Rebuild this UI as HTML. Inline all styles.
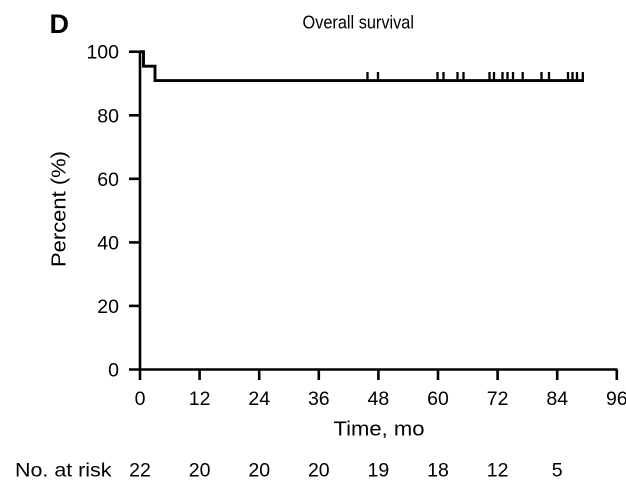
<!DOCTYPE html>
<html>
<head>
<meta charset="utf-8">
<style>
  html, body { margin: 0; padding: 0; background: #fff; }
  body { width: 626px; height: 492px; overflow: hidden; }
  svg { display: block; }
  text { font-family: "Liberation Sans", Arial, sans-serif; fill: #000; }
</style>
</head>
<body>
<svg width="626" height="492" viewBox="0 0 626 492" xmlns="http://www.w3.org/2000/svg">
  <rect width="626" height="492" fill="#fff"/>

  <!-- Panel letter -->
  <text x="49.5" y="33" font-size="27" font-weight="bold">D</text>

  <!-- Title -->
  <text x="302.5" y="28.5" font-size="18.5" textLength="111.5" lengthAdjust="spacingAndGlyphs">Overall survival</text>

  <!-- Axes -->
  <g stroke="#000" stroke-width="2.6" fill="none">
    <line x1="140" y1="51.7" x2="140" y2="369.5"/>
    <line x1="129" y1="369.5" x2="617.5" y2="369.5"/>
    <!-- y ticks -->
    <line x1="129" y1="51.7" x2="140" y2="51.7"/>
    <line x1="129" y1="115.3" x2="140" y2="115.3"/>
    <line x1="129" y1="178.8" x2="140" y2="178.8"/>
    <line x1="129" y1="242.4" x2="140" y2="242.4"/>
    <line x1="129" y1="305.9" x2="140" y2="305.9"/>
    <!-- x ticks -->
    <line x1="140" y1="369.5" x2="140" y2="380"/>
    <line x1="199.6" y1="369.5" x2="199.6" y2="380"/>
    <line x1="259.2" y1="369.5" x2="259.2" y2="380"/>
    <line x1="318.8" y1="369.5" x2="318.8" y2="380"/>
    <line x1="378.4" y1="369.5" x2="378.4" y2="380"/>
    <line x1="438" y1="369.5" x2="438" y2="380"/>
    <line x1="497.6" y1="369.5" x2="497.6" y2="380"/>
    <line x1="557.2" y1="369.5" x2="557.2" y2="380"/>
    <line x1="616.8" y1="369.5" x2="616.8" y2="380"/>
  </g>

  <!-- Y tick labels -->
  <g font-size="19.5" text-anchor="end">
    <text x="119" y="58.7">100</text>
    <text x="119" y="122.3">80</text>
    <text x="119" y="185.8">60</text>
    <text x="119" y="249.4">40</text>
    <text x="119" y="312.9">20</text>
    <text x="119" y="376.5">0</text>
  </g>

  <!-- Y axis title -->
  <text transform="translate(65.5,209) rotate(-90)" font-size="20" text-anchor="middle" textLength="116" lengthAdjust="spacingAndGlyphs">Percent (%)</text>

  <!-- X tick labels -->
  <g font-size="19.5" text-anchor="middle">
    <text x="140" y="405">0</text>
    <text x="199.6" y="405">12</text>
    <text x="259.2" y="405">24</text>
    <text x="318.8" y="405">36</text>
    <text x="378.4" y="405">48</text>
    <text x="438" y="405">60</text>
    <text x="497.6" y="405">72</text>
    <text x="557.2" y="405">84</text>
    <text x="616.8" y="405">96</text>
  </g>

  <!-- X axis title -->
  <text x="333.5" y="435.5" font-size="20" textLength="91" lengthAdjust="spacingAndGlyphs">Time, mo</text>

  <!-- Number at risk -->
  <text x="15" y="476.7" font-size="19.5" textLength="96.5" lengthAdjust="spacingAndGlyphs">No. at risk</text>
  <g font-size="19.5" text-anchor="middle">
    <text x="140" y="476.7">22</text>
    <text x="199.6" y="476.7">20</text>
    <text x="259.2" y="476.7">20</text>
    <text x="318.8" y="476.7">20</text>
    <text x="378.4" y="476.7">19</text>
    <text x="438" y="476.7">18</text>
    <text x="497.6" y="476.7">12</text>
    <text x="557.2" y="476.7">5</text>
  </g>

  <!-- Survival curve -->
  <path d="M140,51.7 H143.5 V66.2 H155 V80.6 H584" stroke="#000" stroke-width="2.9" fill="none" stroke-linejoin="miter"/>

  <!-- Censor marks -->
  <g stroke="#000" stroke-width="2.3">
    <line x1="367.5" y1="72" x2="367.5" y2="81"/>
    <line x1="378" y1="72" x2="378" y2="81"/>
    <line x1="437.5" y1="72" x2="437.5" y2="81"/>
    <line x1="443.5" y1="72" x2="443.5" y2="81"/>
    <line x1="457.5" y1="72" x2="457.5" y2="81"/>
    <line x1="463.5" y1="72" x2="463.5" y2="81"/>
    <line x1="489.5" y1="72" x2="489.5" y2="81"/>
    <line x1="494" y1="72" x2="494" y2="81"/>
    <line x1="502.5" y1="72" x2="502.5" y2="81"/>
    <line x1="507.5" y1="72" x2="507.5" y2="81"/>
    <line x1="513" y1="72" x2="513" y2="81"/>
    <line x1="522.7" y1="72" x2="522.7" y2="81"/>
    <line x1="541.5" y1="72" x2="541.5" y2="81"/>
    <line x1="549" y1="72" x2="549" y2="81"/>
    <line x1="568" y1="72" x2="568" y2="81"/>
    <line x1="572.5" y1="72" x2="572.5" y2="81"/>
    <line x1="577" y1="72" x2="577" y2="81"/>
    <line x1="582.8" y1="72" x2="582.8" y2="81"/>
  </g>
</svg>
</body>
</html>
